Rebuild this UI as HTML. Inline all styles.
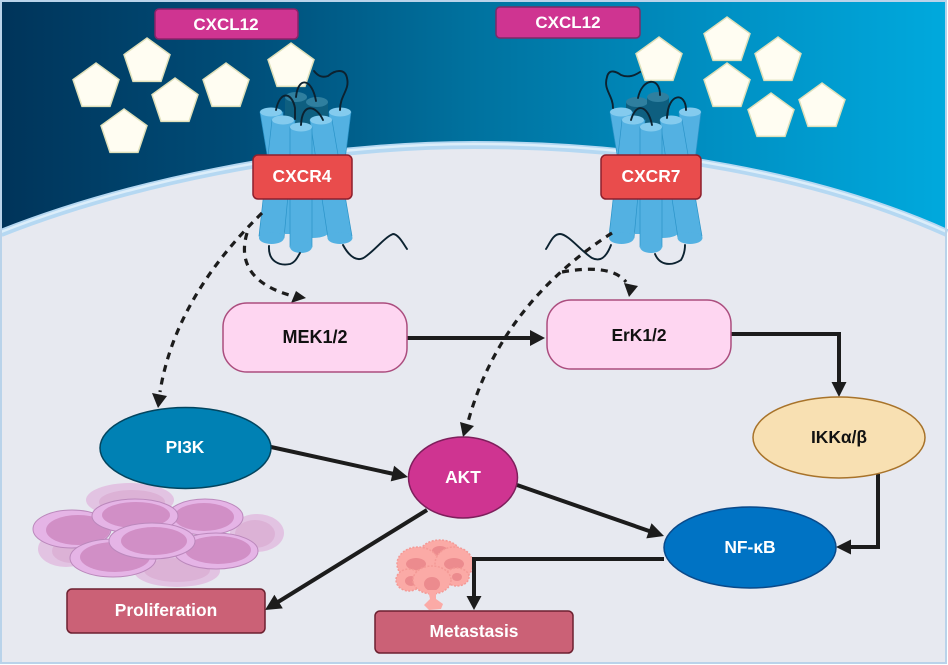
<!DOCTYPE html>
<html><head><meta charset="utf-8"><style>
html,body{margin:0;padding:0;background:#fff}
svg{display:block}
text{font-family:"Liberation Sans",sans-serif;font-weight:700;text-anchor:middle;font-size:17.4px;fill:#fff}
.h{font-size:17px}
.d{fill:#111}
.l{fill:none;stroke:#1c1c1c;stroke-width:4}
.ds{fill:none;stroke:#1c1c1c;stroke-width:3.2;stroke-dasharray:7 6}
.a{fill:#1c1c1c}
.w{fill:none;stroke:#0c2230;stroke-width:1.9;stroke-linecap:round}
.t{fill:#53b1e2;stroke:#2a93c8;stroke-width:.7}
.b{fill:#53b1e2}
.c{fill:#84cbee}
.dk{fill:#0e5f80}
.dc{fill:#2f7f9f}
.p{fill:#fffdf2;stroke:#dfe0ba;stroke-width:1.500}
.c1{fill:#e5b4e6;stroke:#bb88bc;stroke-width:1}
.c2{fill:#d18fc6}
.f1{fill:#e2c3e2}
.f2{fill:#dcb2d6}
.k1{fill:#fbaaa6;stroke:#f49a96;stroke-width:1.500;stroke-dasharray:2 1.500}
.k2{fill:#ec8b8e}
</style></head><body>
<svg width="948" height="665" viewBox="0 0 948 665" xmlns="http://www.w3.org/2000/svg">
<defs>
<linearGradient id="g" x1="0" x2="1" y1="0" y2="0">
<stop offset="0" stop-color="#00345a"/><stop offset=".25" stop-color="#004d78"/><stop offset=".5" stop-color="#00729f"/><stop offset=".75" stop-color="#008fc2"/><stop offset="1" stop-color="#00a9dd"/>
</linearGradient>
<polygon id="pent" class="p" points="0,-24 23,-7.400 14,19.400 -14,19.400 -23,-7.400"/>
<g id="tubes">
<polygon class="b" points="270,128 334,128 330,234 285,234"/>
<ellipse class="b" cx="312" cy="233" rx="16" ry="5"/>
<polygon class="t" points="260,112 283,112 282,160 268,160"/>
<ellipse class="c" cx="271" cy="112" rx="11" ry="4.500"/>
<polygon class="t" points="329,112 351,112 345,160 332,160"/>
<ellipse class="c" cx="340" cy="112" rx="11" ry="4.500"/>
<polygon class="t" points="272,120 295,120 284,238 259,236"/>
<ellipse class="b" cx="271.500" cy="238" rx="12.500" ry="6"/>
<ellipse class="c" cx="283" cy="120" rx="11" ry="4.500"/>
<polygon class="t" points="310,120 332,120 352,236 328,238"/>
<ellipse class="b" cx="340" cy="238" rx="12.500" ry="6"/>
<ellipse class="c" cx="321" cy="120" rx="11" ry="4.500"/>
<rect class="t" x="290" y="127" width="22" height="120"/>
<ellipse class="b" cx="301" cy="247" rx="11" ry="6"/>
<ellipse class="c" cx="301" cy="127" rx="11" ry="4.500"/>
</g>
</defs>
<rect x="0" y="0" width="948" height="665" fill="#fff"/>
<rect x="1" y="1" width="945" height="662" fill="url(#g)"/>
<path d="M1 233 C120 186,300 145,474 145 C650 145,820 176,947 233 V663 H1 Z" fill="#e7e9f0"/>
<path d="M1 233 C120 186,300 145,474 145 C650 145,820 176,947 233" fill="none" stroke="#b5d8f2" stroke-width="8"/>
<path d="M1 232 C120 185,300 144,474 144 C650 144,820 175,947 232" fill="none" stroke="#dceefa" stroke-width="2.500"/>
<rect x="1" y="1" width="945" height="662" fill="none" stroke="#b9d3ea" stroke-width="2"/>

<use href="#pent" x="96" y="87"/><use href="#pent" x="147" y="62"/><use href="#pent" x="175" y="102"/>
<use href="#pent" x="226" y="87"/><use href="#pent" x="291" y="67"/><use href="#pent" x="124" y="133"/>
<use href="#pent" x="659" y="61"/><use href="#pent" x="727" y="41"/><use href="#pent" x="778" y="61"/>
<use href="#pent" x="727" y="87"/><use href="#pent" x="771" y="117"/><use href="#pent" x="822" y="107"/>

<!-- CXCR4 -->
<rect class="dk" x="285" y="97" width="22" height="30"/><ellipse class="dc" cx="296" cy="97" rx="11" ry="5"/>
<rect class="dk" x="306" y="102" width="22" height="25"/><ellipse class="dc" cx="317" cy="102" rx="11" ry="5"/>
<use href="#tubes"/>
<path class="w" d="M276 110 C280 90,292 92,295 108 L295 119"/>
<path class="w" d="M296 97 C298 76,312 78,316 101"/>
<path class="w" d="M301 125 C302 102,316 105,323 120"/>
<path class="w" d="M340 110 C340 95,350 90,347 78 C345 68,335 70,328 76 C322 78,318 76,314 71"/>
<path class="w" d="M269 246 C268 262,280 266,290 264 C296 262,298 256,300 253"/>
<path class="w" d="M343 245 C350 258,358 262,365 257 C375 250,385 237,393 234 C398 234,403 243,407 249"/>

<!-- CXCR7 -->
<rect class="dk" x="626" y="102" width="22" height="28"/><ellipse class="dc" cx="637" cy="102" rx="11" ry="5"/>
<rect class="dk" x="647" y="97" width="22" height="30"/><ellipse class="dc" cx="658" cy="97" rx="11" ry="5"/>
<use href="#tubes" x="350"/>
<path class="w" d="M613 108 C613 95,603 90,607 77 C609 68,617 72,621 75 C628 78,634 76,640 72"/>
<path class="w" d="M638 98 C642 78,660 76,660 95"/>
<path class="w" d="M631 120 C636 102,648 105,652 125"/>
<path class="w" d="M667 118 C668 92,686 92,686 110"/>
<path class="w" d="M611 245 C606 258,600 262,592 258 C582 252,568 234,560 234 C553 234,550 243,546 249"/>
<path class="w" d="M655 254 C660 266,672 266,681 260 C684 255,685 250,685 245"/>

<rect x="155" y="9" width="143" height="30" rx="4" fill="#cf3491" stroke="#8c2268" stroke-width="1.500"/>
<text class="h" x="226" y="30">CXCL12</text>
<rect x="496" y="7" width="144" height="31" rx="4" fill="#cf3491" stroke="#7c2a68" stroke-width="1.500"/>
<text class="h" x="568" y="28">CXCL12</text>
<rect x="253" y="155" width="99" height="44" rx="5" fill="#e94c4c" stroke="#8e1f2c" stroke-width="1.500"/>
<text x="302" y="182">CXCR4</text>
<rect x="601" y="155" width="100" height="44" rx="5" fill="#e94c4c" stroke="#8e1f2c" stroke-width="1.500"/>
<text x="651" y="182">CXCR7</text>

<!-- cell cluster -->
<ellipse class="f1" cx="130" cy="500" rx="44" ry="17"/><ellipse class="f2" cx="132" cy="502" rx="33" ry="12"/>
<ellipse class="f1" cx="257" cy="533" rx="27" ry="19"/><ellipse class="f2" cx="255" cy="534" rx="20" ry="14"/>
<ellipse class="f1" cx="66" cy="549" rx="28" ry="18"/><ellipse class="f2" cx="72" cy="551" rx="20" ry="12"/>
<ellipse class="f1" cx="177" cy="571" rx="43" ry="16"/><ellipse class="f2" cx="177" cy="570" rx="33" ry="12"/>
<ellipse class="c1" cx="72" cy="529" rx="39" ry="19"/><ellipse class="c2" cx="78" cy="530" rx="32" ry="15"/>
<ellipse class="c1" cx="205" cy="517" rx="38" ry="18"/><ellipse class="c2" cx="204" cy="517" rx="30" ry="14"/>
<ellipse class="c1" cx="135" cy="516" rx="43" ry="17"/><ellipse class="c2" cx="136" cy="515" rx="34" ry="13"/>
<ellipse class="c1" cx="216" cy="551" rx="42" ry="18"/><ellipse class="c2" cx="218" cy="550" rx="33" ry="14"/>
<ellipse class="c1" cx="113" cy="558" rx="43" ry="19"/><ellipse class="c2" cx="115" cy="557" rx="35" ry="15"/>
<ellipse class="c1" cx="152" cy="541" rx="43" ry="18"/><ellipse class="c2" cx="154" cy="541" rx="33" ry="14"/>

<!-- cancer cluster -->
<ellipse class="k1" cx="440" cy="553" rx="20" ry="13"/><ellipse class="k2" cx="440" cy="551" rx="8" ry="5"/>
<ellipse class="k1" cx="418" cy="564" rx="21" ry="17"/><ellipse class="k2" cx="416" cy="564" rx="10" ry="6"/>
<ellipse class="k1" cx="454" cy="564" rx="19" ry="17"/><ellipse class="k2" cx="454" cy="564" rx="10" ry="6"/>
<ellipse class="k1" cx="409" cy="580" rx="13" ry="11"/><ellipse class="k2" cx="411" cy="581" rx="6" ry="5"/>
<ellipse class="k1" cx="457" cy="577" rx="12" ry="9"/><ellipse class="k2" cx="457" cy="577" rx="5" ry="4"/>
<ellipse class="k1" cx="432" cy="580" rx="19" ry="14"/><ellipse class="k2" cx="432" cy="584" rx="8" ry="7"/>
<path d="M428 590 L436 590 L436 599 L443 604 L441 609 L429 610 L424 605 L430 599 Z" fill="#fbaaa6"/>

<!-- dashed connectors -->
<path class="ds" d="M262 213 Q175 298 160 392"/>
<polygon class="a" points="152,393 167,396 158,408"/>
<path class="ds" d="M247 233 C236 270,262 288,293 296"/>
<polygon class="a" points="296,291 306,298 291,303"/>
<path class="ds" d="M612 233 Q500 305 468 422"/>
<polygon class="a" points="460,422 474,426 463,437"/>
<path class="ds" d="M562 272 C590 267,615 268,626 282"/>
<polygon class="a" points="624,283 638,286 629,297"/>

<!-- solid connectors -->
<path class="l" d="M405 338 H532"/><polygon class="a" points="530,330 545,338 530,346"/>
<path class="l" d="M731 334 H839 V384"/><polygon class="a" points="831.500,382 846.500,382 839,397"/>
<path class="l" d="M878 474 V547 H850"/><polygon class="a" points="851,539.500 851,554.500 836,547"/>
<path class="l" d="M517 485 L652 532"/><polygon class="a" points="646.300,538.400 651.500,523.200 664,536"/>
<path class="l" d="M664 559 H474 V597"/><polygon class="a" points="466.500,596 481.500,596 474,610"/>
<path class="l" d="M271 447 L394 474"/><polygon class="a" points="390.700,481.400 394.100,465.800 408,477"/>
<path class="l" d="M427 510 L278 602"/><polygon class="a" points="282.800,608.400 274.400,594.800 265,610"/>

<rect x="223" y="303" width="184" height="69" rx="24" fill="#fed6f1" stroke="#ab4d7e" stroke-width="1.500"/>
<text class="d" x="315" y="343" style="font-size:18px">MEK1/2</text>
<rect x="547" y="300" width="184" height="69" rx="24" fill="#fed6f1" stroke="#ab4d7e" stroke-width="1.500"/>
<text class="d" x="639" y="341">ErK1/2</text>
<ellipse cx="185.500" cy="448" rx="85.500" ry="40.500" fill="#0081b4" stroke="#03455f" stroke-width="1.500"/>
<text x="185" y="453">PI3K</text>
<ellipse cx="463" cy="477.500" rx="54.500" ry="40.500" fill="#cf3491" stroke="#7e1f5c" stroke-width="1.500"/>
<text x="463" y="483">AKT</text>
<ellipse cx="839" cy="437.500" rx="86" ry="40.500" fill="#f8e0b2" stroke="#a8732a" stroke-width="1.500"/>
<text class="d" x="839" y="443">IKKα/β</text>
<ellipse cx="750" cy="547.500" rx="86" ry="40.500" fill="#0073c4" stroke="#0a4a8a" stroke-width="1.500"/>
<text x="750" y="553">NF-κB</text>
<rect x="67" y="589" width="198" height="44" rx="5" fill="#cb6176" stroke="#6d2130" stroke-width="1.500"/>
<text x="166" y="616">Proliferation</text>
<rect x="375" y="611" width="198" height="42" rx="5" fill="#cb6176" stroke="#6d2130" stroke-width="1.500"/>
<text x="474" y="637">Metastasis</text>
</svg>
</body></html>
